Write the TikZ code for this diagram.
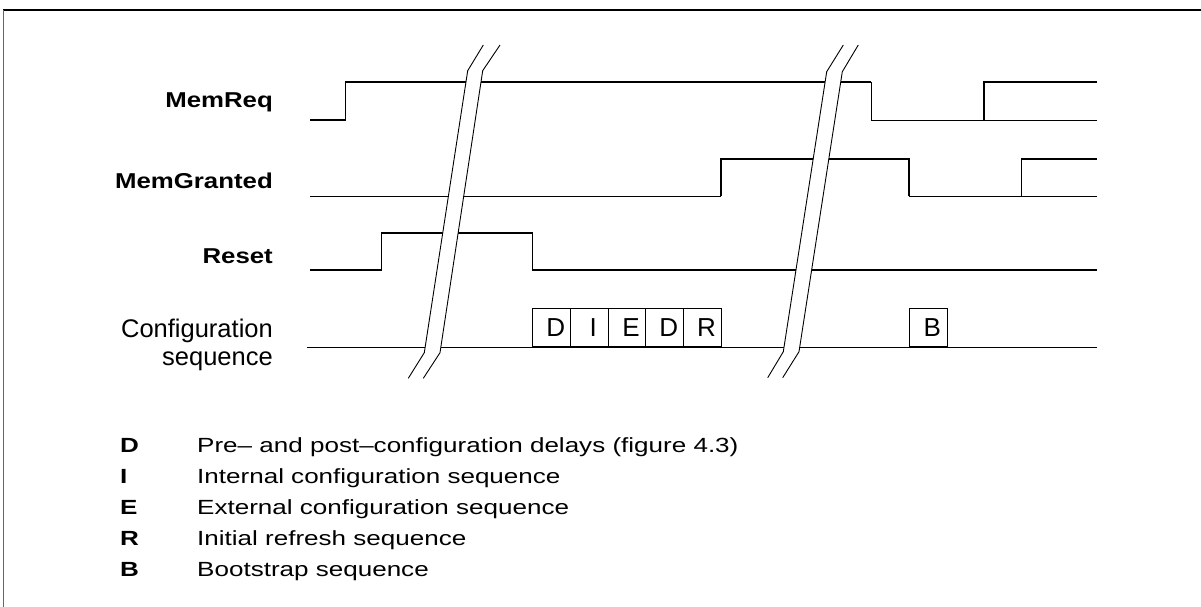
\documentclass[tikz,border=0pt]{standalone}
\usepackage{fontspec}
\setmainfont{Liberation Sans}
\newfontfamily\lblfont[FakeStretch=1.2]{Liberation Sans}
\newfontfamily\legfont[FakeStretch=1.27]{Liberation Sans}
\begin{document}
\begin{tikzpicture}[x=1pt,y=-1pt,
  sigthick/.style={line width=1.5pt, line join=miter},
  sigthin/.style={line width=0.9pt},
  breakline/.style={line width=0.9pt},
  siglabel/.style={anchor=base east, inner sep=0pt, font=\lblfont\bfseries\fontsize{21.5}{25}\selectfont},
  cfglabel/.style={anchor=base east, inner sep=0pt, align=right, font=\fontsize{25.5}{30}\selectfont},
  seqbox/.style={draw, line width=1pt, anchor=south west, inner sep=0pt, minimum width=37.7pt, minimum height=38pt, font=\fontsize{26}{28}\selectfont},
  legkey/.style={anchor=base west, inner sep=0pt, font=\legfont\bfseries\fontsize{20.5}{24}\selectfont},
  legtext/.style={anchor=base west, inner sep=0pt, font=\legfont\fontsize{20.5}{24}\selectfont}
]
\useasboundingbox (0,0) rectangle (1201,607);
% frame
\draw[line width=2pt] (3,10) -- (1201,10);
\draw[line width=0.8pt, black!60] (3,10) -- (3,607);

% labels
\node[siglabel] (lreq) at (273,108) {MemReq};
\node[siglabel] (lgnt) at (273,188) {MemGranted};
\node[siglabel] (lrst) at (273,263) {Reset};
\node[cfglabel] (lcfg1) at (273,337) {Configuration};
\node[cfglabel] (lcfg2) at (273,365) {sequence};

% MemReq
\draw[sigthick] (310,120) -- (345.7,120) -- (345.7,82) -- (871,82);
\draw[sigthin] (871,82) -- (871,120) -- (1097,120);
\draw[sigthick] (984,120) -- (984,82) -- (1097,82);

% MemGranted
\draw[sigthin] (310,196) -- (721,196);
\draw[sigthick] (721,196) -- (721,159) -- (909,159) -- (909,196);
\draw[sigthin] (909,196) -- (1097,196);
\draw[sigthick] (1021.7,196) -- (1021.7,159) -- (1097,159);

% Reset
\draw[sigthick] (310,270) -- (381.7,270) -- (381.7,233) -- (532.3,233) -- (532.3,270) -- (1097,270);

% Configuration sequence
\draw[sigthin] (307,347) -- (1097,347);
\node[seqbox] (s1) at (532.3,347.3) {\hspace*{8pt}D};
\node[seqbox] (s2) at (570,347.3) {\hspace*{8pt}I};
\node[seqbox] (s3) at (607.7,347.3) {\hspace*{8pt}E};
\node[seqbox] (s4) at (645.4,347.3) {\hspace*{8pt}D};
\node[seqbox] (s5) at (683.1,347.3) {\hspace*{8pt}R};
\node[seqbox] (s6) at (909,347.3) {\hspace*{8pt}B};

% breaks
\fill[white] (483.3,45) -- (467.7,70.7) -- (424.3,352.7) -- (408.3,378.3) -- (423.3,378.3) -- (440,352.7) -- (482.7,70.7) -- (500,45) -- cycle;
\draw[breakline] (483.3,45) -- (467.7,70.7) -- (424.3,352.7) -- (408.3,378.3);
\draw[breakline] (500,45) -- (482.7,70.7) -- (440,352.7) -- (423.3,378.3);
\fill[white] (843.3,45) -- (826.7,71.7) -- (783.3,351.7) -- (767.7,377.7) -- (782.7,377.7) -- (799,351.7) -- (842.3,71.7) -- (858.3,45) -- cycle;
\draw[breakline] (843.3,45) -- (826.7,71.7) -- (783.3,351.7) -- (767.7,377.7);
\draw[breakline] (858.3,45) -- (842.3,71.7) -- (799,351.7) -- (782.7,377.7);

% legend
\node[legkey] (kD) at (120,452) {D};
\node[legtext] (tD) at (197,452) {Pre– and post–configuration delays (figure 4.3)};
\node[legkey] (kI) at (120,483) {I};
\node[legtext] (tI) at (197,483) {Internal configuration sequence};
\node[legkey] (kE) at (120,514) {E};
\node[legtext] (tE) at (197,514) {External configuration sequence};
\node[legkey] (kR) at (120,545) {R};
\node[legtext] (tR) at (197,545) {Initial refresh sequence};
\node[legkey] (kB) at (120,576) {B};
\node[legtext] (tB) at (197,576) {Bootstrap sequence};
\end{tikzpicture}
\end{document}
